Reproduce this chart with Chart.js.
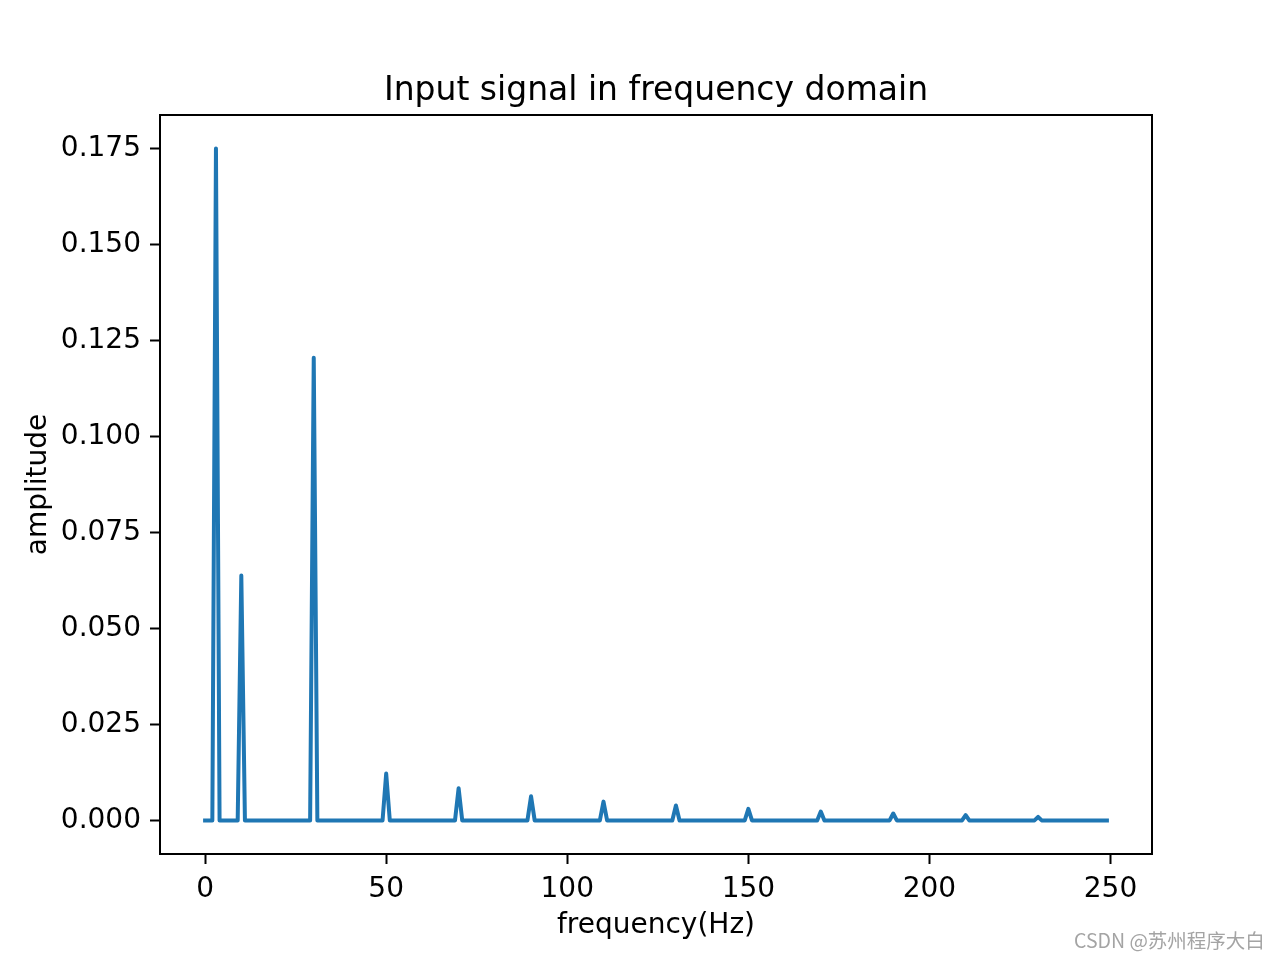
<!DOCTYPE html>
<html>
<head>
<meta charset="utf-8">
<title>Input signal in frequency domain</title>
<script src="https://cdn.jsdelivr.net/npm/chart.js@4/dist/chart.umd.min.js"></script>
<style>
    body { margin: 0; background: #fff; }
    #wrap { position: relative; width: 1280px; height: 960px; }
    #mark {
        position: absolute; left: 1074px; top: 930px;
        font-family: "Noto Sans CJK SC", "Noto Sans", sans-serif;
        font-size: 19.5px; line-height: 20px; color: #a4a4a4; white-space: nowrap;
    }
</style>
</head>
<body>
<div id="wrap">
    <canvas id="fftChart" width="1280" height="960"></canvas>
    <div id="mark">CSDN @苏州程序大白</div>
</div>
<script>
// Spectrum: 0..249 Hz, flat except for these peaks
const freqCount = 250;
const peakFreqs = [3, 10, 30, 50, 70, 90, 110, 130, 150, 170, 190, 210, 230];
const peakAmps = [0.175, 0.0638, 0.1205, 0.0122, 0.0084, 0.0063, 0.0049, 0.0039, 0.0030, 0.0023, 0.0018, 0.0014, 0.0009];

const xTicks = [0, 50, 100, 150, 200, 250];
const yTicks = [0, 0.025, 0.05, 0.075, 0.1, 0.125, 0.15, 0.175];

const chartTitle = 'Input signal in frequency domain';

// build the point list (amplitude is zero outside the peaks)
const points = [];
for (let f = 0; f < freqCount; f++) {
    const i = peakFreqs.indexOf(f);
    points.push({ x: f, y: i >= 0 ? peakAmps[i] : 0 });
}

const FONT = 'DejaVu Sans';

// matplotlib style frame round the plot area, title centred over it
const framePlugin = {
    id: 'frame',
    afterDatasetsDraw(chart) {
        const { ctx, chartArea: a } = chart;
        ctx.save();
        ctx.strokeStyle = '#000';
        ctx.lineWidth = 2;
        ctx.strokeRect(a.left, a.top, a.right - a.left, a.bottom - a.top);
        ctx.fillStyle = '#000';
        ctx.font = '33px "' + FONT + '"';
        ctx.textAlign = 'center';
        ctx.textBaseline = 'alphabetic';
        ctx.fillText(chartTitle, (a.left + a.right) / 2, 100);
        ctx.restore();
    }
};

const tickGrid = {
    display: true,
    drawOnChartArea: false,
    drawTicks: true,
    tickLength: 10,
    tickWidth: 2,
    tickColor: '#000'
};

new Chart(document.getElementById('fftChart').getContext('2d'), {
    type: 'line',
    data: {
        datasets: [{
            data: points,
            borderColor: '#1f77b4',
            borderWidth: 4,
            borderJoinStyle: 'round',
            borderCapStyle: 'square',
            pointRadius: 0,
            tension: 0,
            fill: false
        }]
    },
    options: {
        responsive: false,
        animation: false,
        layout: { padding: { left: 0, right: 128, top: 115, bottom: 0 } },
        scales: {
            x: {
                type: 'linear',
                min: -12.45,
                max: 261.45,
                grid: tickGrid,
                border: { display: false },
                afterBuildTicks: s => { s.ticks = xTicks.map(v => ({ value: v })); },
                afterFit: s => { s.height = 106; },
                ticks: {
                    color: '#000',
                    padding: 9,
                    maxRotation: 0,
                    font: { family: FONT, size: 28 }
                },
                title: {
                    display: true,
                    text: 'frequency(Hz)',
                    color: '#000',
                    font: { family: FONT, size: 28 },
                    padding: { top: 0, bottom: 17 }
                }
            },
            y: {
                min: -0.00875,
                max: 0.18375,
                grid: tickGrid,
                border: { display: false },
                afterBuildTicks: s => { s.ticks = yTicks.map(v => ({ value: v })); },
                afterFit: s => { s.width = 160; },
                ticks: {
                    color: '#000',
                    padding: 9,
                    font: { family: FONT, size: 28 },
                    callback: v => v.toFixed(3)
                },
                title: {
                    display: true,
                    text: 'amplitude',
                    color: '#000',
                    font: { family: FONT, size: 28 },
                    padding: { top: 22, bottom: 0 }
                }
            }
        },
        plugins: {
            legend: { display: false },
            tooltip: { enabled: false },
            title: { display: false }
        }
    },
    plugins: [framePlugin]
});
</script>
</body>
</html>
